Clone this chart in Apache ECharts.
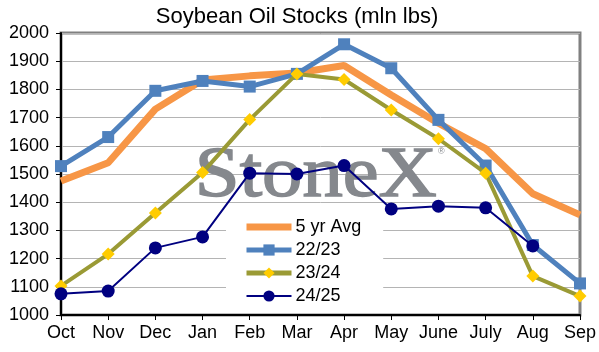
<!DOCTYPE html>
<html>
<head>
<meta charset="utf-8">
<script src="https://cdn.jsdelivr.net/npm/echarts@6/dist/echarts.min.js"></script>
<style>
  html, body { margin: 0; padding: 0; background: #fff; }
  #chart { width: 599px; height: 352px; }
</style>
</head>
<body>
<div id="chart"></div>
<script>
var months = ['Oct', 'Nov', 'Dec', 'Jan', 'Feb', 'Mar', 'Apr', 'May', 'June', 'July', 'Aug', 'Sep'];
var avg5yr = [1475, 1540, 1730, 1833, 1848, 1858, 1885, 1780, 1680, 1590, 1430, 1355];
var s2223 = [1528, 1631, 1795, 1830, 1810, 1855, 1960, 1875, 1692, 1530, 1248, 1112];
var s2324 = [1103, 1216, 1362, 1505, 1693, 1855, 1835, 1727, 1625, 1503, 1138, 1067];
var s2425 = [1075, 1085, 1238, 1277, 1503, 1500, 1530, 1376, 1386, 1380, 1245];

var dom = document.getElementById('chart');
var myChart = echarts.init(dom);

var font = 'Liberation Sans, Arial, sans-serif';

var option = {
    animation: false,
    title: {
        text: 'Soybean Oil Stocks (mln lbs)',
        left: 292,
        textAlign: 'center',
        top: 1,
        textStyle: { fontFamily: font, fontSize: 22, fontWeight: 'normal', color: '#000' }
    },
    legend: {
        orient: 'vertical',
        left: 226,
        top: 213,
        padding: [5, 22, 6, 17],
        backgroundColor: '#fff',
        itemWidth: 45,
        itemHeight: 14,
        itemGap: 5,
        textStyle: { fontFamily: font, fontSize: 18, color: '#000', padding: [0, 0, 0, -1] },
        data: [
            { name: '5 yr Avg', itemStyle: { opacity: 0 }, lineStyle: { width: 7 } },
            { name: '22/23', lineStyle: { width: 5 } },
            { name: '23/24', lineStyle: { width: 5 } },
            { name: '24/25', lineStyle: { width: 2 } }
        ]
    },
    graphic: [
        {
            type: 'text',
            left: 194,
            top: 140,
            scaleX: 1.12,
            z: 1,
            style: {
                text: 'StoneX',
                font: '72px "Liberation Serif", "Times New Roman", serif',
                fill: '#85888d',
                stroke: '#85888d',
                lineWidth: 1.5
            }
        },
        {
            type: 'text',
            left: 438,
            top: 147,
            z: 1,
            style: {
                text: '\u00ae',
                font: '9px "Liberation Sans", Arial, sans-serif',
                fill: '#85888d'
            }
        }
    ],
    grid: {
        left: 61,
        right: 19,
        top: 33,
        bottom: 37,
        show: true,
        borderColor: '#808080',
        borderWidth: 3,
        backgroundColor: 'transparent'
    },
    xAxis: {
        type: 'category',
        boundaryGap: false,
        data: months,
        axisLine: { lineStyle: { color: '#000', width: 2 } },
        axisTick: { show: true, length: 5, interval: 0, lineStyle: { color: '#000' } },
        axisLabel: { fontFamily: font, fontSize: 18, color: '#000', margin: 9, interval: 0 },
        splitLine: { show: false }
    },
    yAxis: {
        type: 'value',
        min: 1000,
        max: 2000,
        interval: 100,
        axisLine: { show: true, lineStyle: { color: '#000', width: 2 } },
        axisTick: { show: true, length: 5, lineStyle: { color: '#000' } },
        axisLabel: {
            fontFamily: font, fontSize: 18, color: '#000', margin: 12,
            formatter: function (v) { return String(v); }
        },
        splitLine: { show: true, lineStyle: { color: '#b4b4b4', width: 1 } }
    },
    series: [
        {
            name: '5 yr Avg',
            type: 'line',
            data: avg5yr,
            symbol: 'none',
            color: '#f79646',
            lineStyle: { color: '#f79646', width: 7 },
            z: 2
        },
        {
            name: '22/23',
            type: 'line',
            data: s2223,
            symbol: 'rect',
            symbolSize: 12,
            color: '#4f81bd',
            itemStyle: { color: '#4f81bd' },
            lineStyle: { color: '#4f81bd', width: 5 },
            z: 3
        },
        {
            name: '23/24',
            type: 'line',
            data: s2324,
            symbol: 'diamond',
            symbolSize: 13,
            color: '#9a9a35',
            itemStyle: { color: '#ffcc00' },
            lineStyle: { color: '#9a9a35', width: 4 },
            z: 4
        },
        {
            name: '24/25',
            type: 'line',
            data: s2425,
            symbol: 'circle',
            symbolSize: 13,
            color: '#000080',
            itemStyle: { color: '#000080' },
            lineStyle: { color: '#000080', width: 2 },
            z: 5
        }
    ]
};

if (option && typeof option === 'object') {
    myChart.setOption(option, true);
}
</script>
</body>
</html>
